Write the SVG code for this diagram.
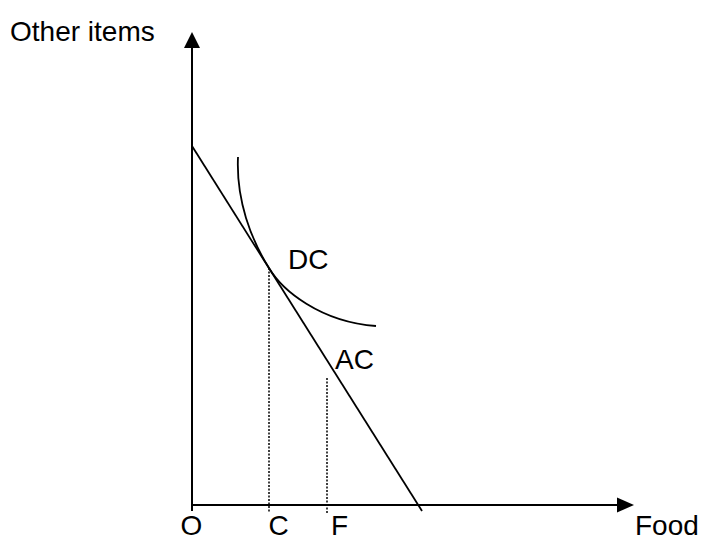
<svg xmlns="http://www.w3.org/2000/svg" width="702" height="541" viewBox="0 0 702 541">
<style>
text{font-family:"Liberation Sans",Arial,sans-serif;font-size:28px;fill:#000}
.ax{stroke:#000;stroke-width:2;fill:none}
.ln{stroke:#000;stroke-width:1.8;fill:none}
.dot{stroke:#000;stroke-width:1.5;stroke-dasharray:2,1.5;fill:none}
.head{fill:#000}
</style>
<rect width="702" height="541" fill="#fff"/>
<g id="axes">
<line class="ax" x1="192" y1="511" x2="192" y2="44"/>
<polygon class="head" points="192,32 184,48 200,48"/>
<line class="ax" x1="192" y1="505" x2="620" y2="505"/>
<polygon class="head" points="634,505 617,497.5 617,512.5"/>
</g>
<g id="connectors">
<line id="AC-line" class="ln" x1="192" y1="146" x2="422" y2="511"/>
<path id="DC-curve" class="ln" d="M238,157 C236,200 251,239.5 269,268 C282,290 320,322 376,326"/>
<line class="dot" x1="269" y1="268" x2="269" y2="513"/>
<line class="dot" x1="327" y1="378" x2="327" y2="513"/>
</g>
<g id="labels">
<text x="10" y="40.5">Other items</text>
<text x="635" y="535">Food</text>
<text x="288" y="269">DC</text>
<text x="335" y="369">AC</text>
<text x="180.5" y="535">O</text>
<text x="268.5" y="535">C</text>
<text x="331" y="535">F</text>
</g>
</svg>
